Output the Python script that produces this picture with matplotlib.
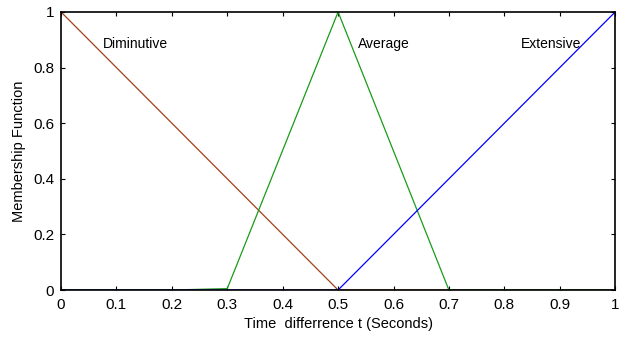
import matplotlib
matplotlib.use("Agg")
import matplotlib.pyplot as plt
import numpy as np

plt.rcParams["font.family"] = ["Liberation Sans", "DejaVu Sans"]

# membership functions (breakpoints)
dim_x = [0.0, 0.5, 1.0]
dim_y = [1.0, 0.0, 0.0]
avg_x = [0.0, 0.2, 0.3, 0.5, 0.7, 1.0]
avg_y = [0.0, 0.0, 0.005, 1.0, 0.0, 0.0]
ext_x = [0.0, 0.5, 1.0]
ext_y = [0.0, 0.0, 1.0]

labels = ["Diminutive", "Average", "Extensive"]
label_x = [0.075, 0.535, 0.83]
label_y = [0.885, 0.885, 0.885]

x_ticks = np.round(np.arange(0, 1.01, 0.1), 1)
x_ticklabels = ["0", "0.1", "0.2", "0.3", "0.4", "0.5", "0.6", "0.7", "0.8", "0.9", "1"]
y_ticks = [0, 0.2, 0.4, 0.6, 0.8, 1.0]
y_ticklabels = ["0", "0.2", "0.4", "0.6", "0.8", "1"]

fig = plt.figure(figsize=(6.29, 3.42), dpi=100)
ax = fig.add_axes([0.097, 0.152, 0.881, 0.813])

ax.plot(dim_x, dim_y, color="#a0401a", linewidth=0.9)
ax.plot(avg_x, avg_y, color="#1a9a1a", linewidth=0.9)
ax.plot(ext_x, ext_y, color="#0000ff", linewidth=0.9)

for t, x, y in zip(labels, label_x, label_y):
    ax.text(x, y, t, fontsize=10, ha="left", va="center")

ax.set_xlim(0, 1)
ax.set_ylim(0, 1)
ax.set_xticks(x_ticks)
ax.set_xticklabels(x_ticklabels)
ax.set_yticks(y_ticks)
ax.set_yticklabels(y_ticklabels)
ax.tick_params(direction="in", length=3, labelsize=11, top=True, right=True)
ax.tick_params(axis="x", pad=6)
ax.tick_params(axis="y", pad=5)
for s in ax.spines.values():
    s.set_linewidth(1.2)

ax.set_xlabel("Time  differrence t (Seconds)", fontsize=10.5, labelpad=3)
ax.set_ylabel("Membership Function", fontsize=10.5, labelpad=5)

fig.savefig("out.png", dpi=100)
